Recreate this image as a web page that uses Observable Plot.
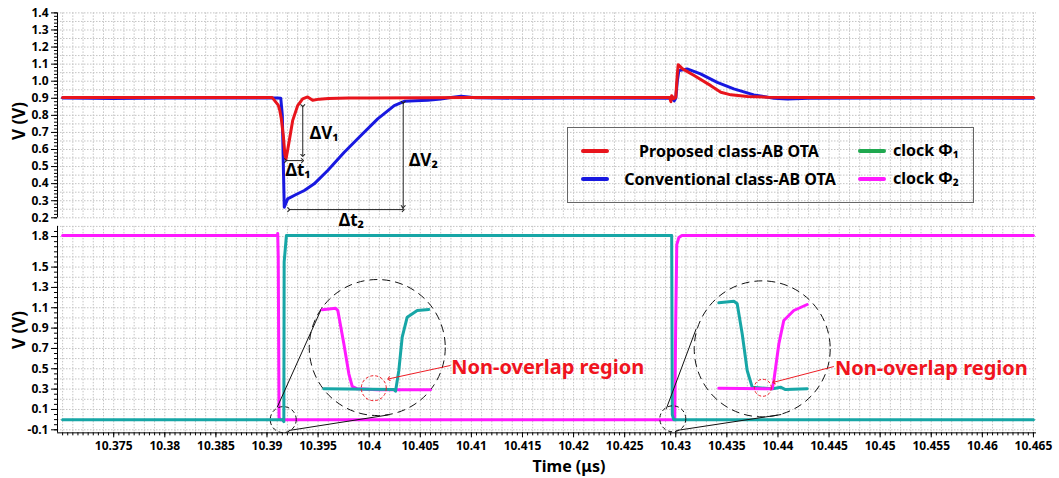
<!DOCTYPE html>
<html>
<head>
<meta charset="utf-8">
<script src="https://cdn.jsdelivr.net/npm/d3@7"></script>
<script src="https://cdn.jsdelivr.net/npm/@observablehq/plot@0.6"></script>
<style>
  html, body { margin: 0; padding: 0; background: #fff; }
  body { font-family: "Noto Sans", sans-serif; }
  #wrap { position: relative; width: 1059px; height: 478px; overflow: hidden; }
  #top, #bot { position: absolute; left: 0; }
  #top { top: 0; z-index: 2; }
  #bot { top: 225px; z-index: 1; }
  .ylab { position: absolute; font-weight: bold; font-size: 17px; white-space: nowrap;
          transform: translate(-50%, -50%) rotate(-90deg); color: #000; z-index: 3; }
  #xlab { position: absolute; font-weight: bold; font-size: 16px; white-space: nowrap;
          transform: translate(-50%, -50%); color: #000; z-index: 3; }
  #legend { position: absolute; left: 567px; top: 127px; width: 405px; height: 74px;
            border: 1px solid #666; z-index: 4; }
  #legend .sw { position: absolute; width: 28px; height: 4px; border-radius: 2px; }
  #legend .tx { position: absolute; font-weight: bold; font-size: 16px; white-space: nowrap; color: #000; }
</style>
</head>
<body>
<div id="wrap">
  <div id="top"></div>
  <div id="bot"></div>
  <div class="ylab" style="left:18px; top:121px;">V (V)</div>
  <div class="ylab" style="left:18px; top:330px;">V (V)</div>
  <div id="xlab" style="left:569px; top:466px;">Time (μs)</div>
  <div id="legend"></div>
</div>
<script>
// ---------------- data (time in µs, voltage in V) ----------------
const xTicks = [10.375, 10.38, 10.385, 10.39, 10.395, 10.4, 10.405, 10.41, 10.415, 10.42,
                10.425, 10.43, 10.435, 10.44, 10.445, 10.45, 10.455, 10.46, 10.465];
const topYTicks = [0.2, 0.3, 0.4, 0.5, 0.6, 0.7, 0.8, 0.9, 1.0, 1.1, 1.2, 1.3, 1.4];
const botYTicks = [-0.1, 0.1, 0.3, 0.5, 0.7, 0.9, 1.1, 1.3, 1.5, 1.8];

// Proposed class-AB OTA (red)
const propT = [10.3700, 10.3750, 10.3800, 10.3850, 10.3905, 10.3911, 10.39125, 10.3914, 10.3916,
               10.39175, 10.39186, 10.3920, 10.39218, 10.39251, 10.3930, 10.39349, 10.39398,
               10.39447, 10.39511, 10.3960, 10.3980, 10.4000, 10.4050, 10.4100, 10.4200,
               10.4294, 10.42952, 10.4296, 10.4298, 10.4300, 10.43015, 10.43024, 10.43067,
               10.4318, 10.43343, 10.43441, 10.43539, 10.43702, 10.43898, 10.4420, 10.4500,
               10.4600, 10.4650];
const propV = [0.904, 0.904, 0.905, 0.905, 0.905, 0.86, 0.83, 0.78, 0.68,
               0.57, 0.545, 0.59, 0.652, 0.769, 0.857, 0.896, 0.908,
               0.889, 0.895, 0.898, 0.901, 0.902, 0.903, 0.904, 0.904,
               0.904, 0.88, 0.915, 0.898, 0.905, 1.04, 1.097, 1.072,
               1.033, 0.974, 0.935, 0.92, 0.911, 0.906, 0.905, 0.905,
               0.904, 0.904];

// Conventional class-AB OTA (blue)
const convT = [10.3700, 10.3750, 10.3800, 10.3850, 10.3910, 10.39135, 10.3915, 10.39162,
               10.39169, 10.39202, 10.3928, 10.39365, 10.39462, 10.39594, 10.39756, 10.39919,
               10.40083, 10.40245, 10.40343, 10.4045, 10.40572, 10.4070, 10.4080, 10.4090,
               10.4104, 10.4150, 10.4200, 10.4296, 10.42984, 10.4300, 10.43015, 10.4303,
               10.43112, 10.43242, 10.43406, 10.43568, 10.43764, 10.4396, 10.44091, 10.4430,
               10.4500, 10.4600, 10.4650];
const convV = [0.902, 0.899, 0.901, 0.901, 0.902, 0.90, 0.80, 0.45,
               0.262, 0.311, 0.335, 0.36, 0.399, 0.477, 0.584, 0.682,
               0.779, 0.857, 0.882, 0.886, 0.888, 0.895, 0.905, 0.912,
               0.903, 0.9, 0.901, 0.9, 0.885, 0.9, 1.0, 1.062,
               1.072, 1.043, 0.993, 0.955, 0.92, 0.9, 0.896, 0.9,
               0.902, 0.901, 0.9];

// clock Φ1 (teal) and clock Φ2 (magenta)
const phi1T = [10.3700, 10.3915, 10.39165, 10.39168, 10.3919, 10.4296, 10.42966, 10.4298, 10.4650];
const phi1V = [0.0, 0.0, -0.02, 1.55, 1.81, 1.81, 0.05, 0.0, 0.0];
const phi2T = [10.3700, 10.3910, 10.39105, 10.3911, 10.39118, 10.3913, 10.4299, 10.43,
               10.4301, 10.4303, 10.4306, 10.4650];
const phi2V = [1.81, 1.81, 1.83, 1.6, 0.02, 0.0, 0.0, 1.0, 1.72, 1.79, 1.81, 1.81];

// zoomed insets of the non-overlap transitions (drawn in the lower panel's units)
const inset1MagT = [10.3954, 10.39671, 10.39693, 10.39752, 10.39801, 10.39834, 10.39883, 10.40079, 10.406];
const inset1MagV = [1.08, 1.096, 1.073, 0.746, 0.451, 0.326, 0.303, 0.293, 0.293];
const inset1TealT = [10.39556, 10.40241, 10.40258, 10.4029, 10.40323, 10.40372, 10.4047, 10.40583];
const inset1TealV = [0.303, 0.296, 0.28, 0.483, 0.811, 1.007, 1.073, 1.083];
const inset2TealT = [10.43421, 10.43568, 10.43601, 10.4365, 10.43699, 10.43748, 10.43944, 10.43976,
                     10.44025, 10.44074, 10.44286];
const inset2TealV = [1.149, 1.165, 1.139, 0.844, 0.483, 0.319, 0.303, 0.309, 0.319, 0.296, 0.303];
const inset2MagT = [10.43421, 10.43944, 10.4396, 10.44009, 10.44057, 10.44155, 10.44286];
const inset2MagV = [0.309, 0.303, 0.385, 0.746, 0.975, 1.073, 1.132];

// annotation anchors (data units)
const bigCircles = [{t: 10.40079, v: 0.709}, {t: 10.43846, v: 0.696}];
const smallCircles = [{t: 10.39159, v: 0.0}, {t: 10.42971, v: 0.008}];
const redCircleA = [{t: 10.40045, v: 0.309}];
const redCircleB = [{t: 10.43852, v: 0.313}];
const zoomLines = [
  {t1: 10.3910, v1: 0.122, t2: 10.3954, v2: 1.106},
  {t1: 10.39213, v1: -0.107, t2: 10.40192, v2: 0.047},
  {t1: 10.42907, v1: 0.106, t2: 10.4320, v2: 0.893},
  {t1: 10.43005, v1: -0.107, t2: 10.44032, v2: 0.05}
];
const redArrows = [
  {t1: 10.40797, v1: 0.533, t2: 10.40192, v2: 0.401},
  {t1: 10.44547, v1: 0.522, t2: 10.4396, v2: 0.368}
];
const redLabels = [
  {t: 10.40803, v: 0.516, text: "Non-overlap region"},
  {t: 10.44557, v: 0.500, text: "Non-overlap region"}
];
const deltaArrows = [
  {t1: 10.3935, v1: 0.857, t2: 10.3935, v2: 0.565},   // ΔV1
  {t1: 10.39181, v1: 0.535, t2: 10.39348, v2: 0.535}, // Δt1
  {t1: 10.40333, v1: 0.876, t2: 10.40333, v2: 0.266}, // ΔV2
  {t1: 10.39213, v1: 0.248, t2: 10.40333, v2: 0.248}  // Δt2
];
const deltaLabels = [
  {t: 10.39419, v: 0.693, text: "ΔV₁"},
  {t: 10.39181, v: 0.477, text: "Δt₁"},
  {t: 10.40389, v: 0.535, text: "ΔV₂"},
  {t: 10.39703, v: 0.184, text: "Δt₂"}
];

const legendItems = [
  {label: "Proposed class-AB OTA", color: "#e8141c"},
  {label: "Conventional class-AB OTA", color: "#1818e0"},
  {label: "clock Φ₁", color: "#1fa84f"},
  {label: "clock Φ₂", color: "#ff1aff"}
];

// ---------------- helpers ----------------
const zip = (T, V) => T.map((t, i) => ({t, v: V[i]}));
const RED = "#e8141c", BLUE = "#1818e0", MAG = "#ff1aff", TEAL = "#17a6a6";
const xDomain = [10.3695, 10.4653];
const xMinor = d3.range(10.370, 10.4654, 0.0005).map(d => +d.toFixed(4));
const xGrid = d3.range(10.370, 10.4654, 0.001).map(d => +d.toFixed(3));
const fmtX = d => String(+d.toFixed(3));
const gridStyle = {stroke: "#c4c4c4", strokeOpacity: 1, strokeDasharray: "1.5,1.5", strokeWidth: 1};
const baseStyle = {fontFamily: "'Noto Sans', sans-serif", fontSize: "12px", background: "transparent",
                   overflow: "visible", color: "#000"};

// ---------------- top panel ----------------
const topDomain = [0.2, 1.4];
const topPlot = Plot.plot({
  width: 1059, height: 225,
  marginLeft: 57, marginRight: 23, marginTop: 12.4, marginBottom: 7.7,
  style: baseStyle,
  x: {domain: xDomain, axis: null},
  y: {domain: topDomain},
  marks: [
    Plot.gridX(xGrid, gridStyle),
    Plot.gridY(d3.range(0.2, 1.401, 0.05).map(d => +d.toFixed(2)), gridStyle),
    Plot.ruleX([xDomain[0]], {stroke: "#000", strokeWidth: 1}),
    Plot.axisY(d3.range(0.2, 1.401, 0.02).map(d => +d.toFixed(2)),
      {tickSize: 3, tickFormat: () => "", label: null, stroke: "#000"}),
    Plot.axisY(topYTicks, {tickSize: 6, tickPadding: 3, tickFormat: d => d.toFixed(1),
      label: null, fontWeight: "bold", fontSize: 12, color: "#000"}),
    Plot.line(zip(convT, convV), {x: "t", y: "v", stroke: BLUE, strokeWidth: 3, strokeLinejoin: "round"}),
    Plot.line(zip(propT, propV), {x: "t", y: "v", stroke: RED, strokeWidth: 3, strokeLinejoin: "round"}),
    Plot.link(deltaArrows, {x1: "t1", y1: "v1", x2: "t2", y2: "v2", stroke: "#222", strokeWidth: 1,
      markerStart: "arrow", markerEnd: "arrow"}),
    Plot.text(deltaLabels, {x: "t", y: "v", text: "text", textAnchor: "start", lineAnchor: "middle",
      fontSize: 17, fontWeight: "bold", fill: "#000"})
  ]
});
document.getElementById("top").appendChild(topPlot);

// ---------------- bottom panel ----------------
const botDomain = [-0.13, 1.9];
const botPlot = Plot.plot({
  width: 1059, height: 253,
  marginLeft: 57, marginRight: 23, marginTop: 0.9, marginBottom: 45.65,
  style: baseStyle,
  x: {domain: xDomain},
  y: {domain: botDomain},
  marks: [
    Plot.gridX(xGrid, gridStyle),
    Plot.gridY(d3.range(-0.1, 1.95, 0.1).map(d => +d.toFixed(1)), gridStyle),
    Plot.ruleX([xDomain[0]], {stroke: "#000", strokeWidth: 1}),
    Plot.ruleY([botDomain[0]], {stroke: "#000", strokeWidth: 1}),
    Plot.axisY(d3.range(-0.1, 1.9, 0.05).map(d => +d.toFixed(2)),
      {tickSize: 3, tickFormat: () => "", label: null, stroke: "#000"}),
    Plot.axisY(botYTicks, {tickSize: 6, tickPadding: 3, tickFormat: d => d.toFixed(1),
      label: null, fontWeight: "bold", fontSize: 12, color: "#000"}),
    Plot.axisX(xMinor.filter(d => d >= xDomain[0] && d <= xDomain[1]),
      {tickSize: 3, tickFormat: () => "", label: null, stroke: "#000"}),
    Plot.axisX(xTicks, {tickSize: 5, tickPadding: 4, tickFormat: fmtX, label: null,
      fontWeight: "bold", fontSize: 12, color: "#000"}),
    Plot.line(zip(phi2T, phi2V), {x: "t", y: "v", stroke: MAG, strokeWidth: 3}),
    Plot.line(zip(phi1T, phi1V), {x: "t", y: "v", stroke: TEAL, strokeWidth: 3}),
    // zoom circles and guide lines
    Plot.dot(bigCircles, {x: "t", y: "v", r: 68, stroke: "#111", strokeWidth: 1, strokeDasharray: "8,5", fill: "none"}),
    Plot.dot(smallCircles, {x: "t", y: "v", r: 13, stroke: "#111", strokeWidth: 1, strokeDasharray: "4,3", fill: "none"}),
    Plot.link(zoomLines, {x1: "t1", y1: "v1", x2: "t2", y2: "v2", stroke: "#111", strokeWidth: 1}),
    // inset waveforms
    Plot.line(zip(inset1MagT, inset1MagV), {x: "t", y: "v", stroke: MAG, strokeWidth: 3, strokeLinejoin: "round"}),
    Plot.line(zip(inset1TealT, inset1TealV), {x: "t", y: "v", stroke: TEAL, strokeWidth: 3, strokeLinejoin: "round"}),
    Plot.line(zip(inset2TealT, inset2TealV), {x: "t", y: "v", stroke: TEAL, strokeWidth: 3, strokeLinejoin: "round"}),
    Plot.line(zip(inset2MagT, inset2MagV), {x: "t", y: "v", stroke: MAG, strokeWidth: 3, strokeLinejoin: "round"}),
    Plot.dot(redCircleA, {x: "t", y: "v", r: 12.5, stroke: "#ee1c24", strokeWidth: 1,
      strokeDasharray: "3,2", fill: "none"}),
    Plot.dot(redCircleB, {x: "t", y: "v", r: 8.5, stroke: "#ee1c24", strokeWidth: 1,
      strokeDasharray: "3,2", fill: "none"}),
    Plot.link(redArrows, {x1: "t1", y1: "v1", x2: "t2", y2: "v2", stroke: "#ee1c24", strokeWidth: 1, markerEnd: "arrow"}),
    Plot.text(redLabels, {x: "t", y: "v", text: "text", textAnchor: "start", lineAnchor: "middle",
      fontSize: 20, fontWeight: "bold", fill: "#f0141e"})
  ]
});
document.getElementById("bot").appendChild(botPlot);

// ---------------- legend (inside top panel) ----------------
const legend = document.getElementById("legend");
const legendPos = [
  {sx: 13, sy: 21, tx: 161, ty: 23, center: true},
  {sx: 13, sy: 49, tx: 162, ty: 51, center: true},
  {sx: 290, sy: 21, tx: 325, ty: 22, center: false},
  {sx: 290, sy: 49, tx: 325, ty: 50, center: false}
];
legendItems.forEach((item, i) => {
  const p = legendPos[i];
  const sw = document.createElement("div");
  sw.className = "sw";
  sw.style.left = p.sx + "px"; sw.style.top = p.sy + "px"; sw.style.background = item.color;
  legend.appendChild(sw);
  const tx = document.createElement("div");
  tx.className = "tx";
  tx.textContent = item.label;
  tx.style.left = p.tx + "px"; tx.style.top = p.ty + "px";
  tx.style.transform = p.center ? "translate(-50%, -50%)" : "translate(0, -50%)";
  legend.appendChild(tx);
});
</script>
</body>
</html>
